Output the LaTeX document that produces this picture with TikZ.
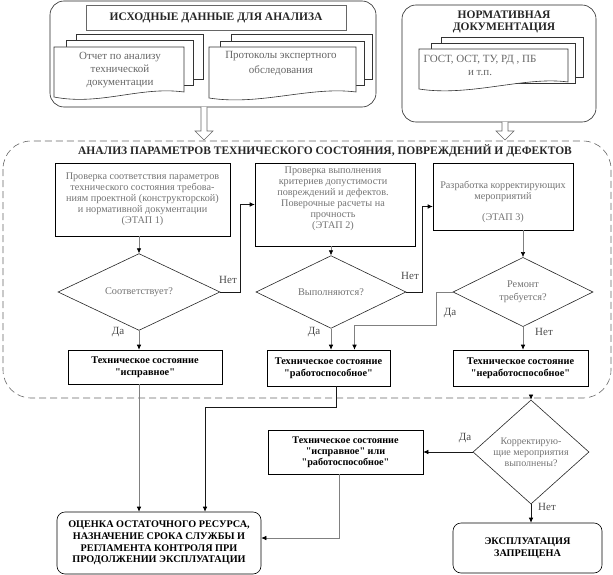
\documentclass[tikz,border=0pt]{standalone}
\usepackage{fontspec}
\setmainfont{Liberation Serif}[Ligatures=TeXOff]
\usetikzlibrary{shapes.geometric,arrows.meta}
\begin{document}
\begin{tikzpicture}[x=1pt,y=-1pt,
  outer/.style={draw=black!85, line width=0.6pt, rounded corners=14pt, inner sep=0pt},
  titlebox/.style={draw=black!60, line width=0.6pt, inner sep=0pt},
  titletxt/.style={font=\bfseries\fontsize{11.5}{12}\selectfont, align=center, text=black!85},
  doc/.style={draw=black!80, line width=0.6pt, fill=white},
  doctxt/.style={font=\fontsize{11}{13}\selectfont, align=center, text=black!60},
  stagebox/.style={draw=black, line width=0.6pt, inner sep=0pt},
  stagetxt/.style={font=\fontsize{10.2}{11}\selectfont, align=center, text=black!55},
  dec/.style={diamond, draw=black!85, line width=0.6pt, inner sep=0pt, align=center,
    font=\fontsize{10.3}{11}\selectfont, text=black!55},
  res/.style={draw=black, line width=0.6pt, inner sep=0pt, align=center,
    font=\bfseries\fontsize{10.3}{12.5}\selectfont},
  fin/.style={draw=black, line width=0.6pt, rounded corners=8pt, inner sep=0pt, align=center,
    font=\bfseries\fontsize{10.2}{11.7}\selectfont},
  arr/.style={draw=black!50, line width=0.6pt, -{Latex[length=5pt,width=4.5pt,color=black]}},
  arrk/.style={draw=black!90, line width=0.6pt, -{Latex[length=5pt,width=4.5pt,color=black]}},
  lbl/.style={font=\fontsize{11}{12}\selectfont, text=black!70, inner sep=0pt},
  hollow/.style={draw=black!60, fill=white, line width=0.6pt},
  region/.style={draw=black!60, line width=0.6pt, dash pattern=on 7pt off 4pt, rounded corners=28pt}
]
\useasboundingbox (0,0) rectangle (613,575);

% ---------- source data block ----------
\node[outer, minimum width=326pt, minimum height=106pt] (srcbox) at (213,54) {};
\node[titlebox, minimum width=260pt, minimum height=25pt] (srctitle) at (216,17.5) {};
\node[titletxt] at (srctitle) {ИСХОДНЫЕ ДАННЫЕ ДЛЯ АНАЛИЗА};

% document 1
\draw[doc] (76,34) rectangle (203,79);
\draw[doc] (66,40) rectangle (193,85);
\draw[doc] (54,47) -- (184,47) -- (184,92) .. controls (140,86) and (100,106) .. (54,97) -- cycle;
\node[doctxt] (doc1) at (120,70.5) {Отчет по анализу\\технической\\документации};

% document 2
\draw[doc] (231,34) rectangle (372,79);
\draw[doc] (220,41) rectangle (364,85);
\draw[doc] (209,47) -- (356,47) -- (356,92) .. controls (310,86) and (260,106) .. (209,98) -- cycle;
\node[doctxt, font=\fontsize{11}{14.5}\selectfont] (doc2) at (281,63.5) {Протоколы экспертного\\обследования};

% ---------- normative block ----------
\node[outer, minimum width=194pt, minimum height=117pt] (normbox) at (499,63.5) {};
\node[titletxt] (normtitle) at (504,21.5) {НОРМАТИВНАЯ\\ДОКУМЕНТАЦИЯ};
\draw[doc] (441,37) rectangle (583,77);
\draw[doc] (431,43) rectangle (575,83);
\draw[doc] (419,49) -- (568,49) -- (568,82) .. controls (525,76) and (470,97) .. (419,89) -- cycle;
\node[doctxt] (doc3) at (480,65) {ГОСТ, ОСТ, ТУ, РД , ПБ\\и т.п.};

% ---------- analysis region ----------
\draw[region] (3,141) rectangle (611,398);
\node[titletxt] (antitle) at (325,151) {АНАЛИЗ ПАРАМЕТРОВ ТЕХНИЧЕСКОГО СОСТОЯНИЯ, ПОВРЕЖДЕНИЙ И ДЕФЕКТОВ};

% hollow arrows
\draw[hollow] (201,107) -- (201,131) -- (195,131) -- (204,140) -- (213,131) -- (207,131) -- (207,107);
\draw[hollow] (502,122) -- (502,131) -- (496,131) -- (505,140) -- (514,131) -- (508,131) -- (508,122);

% stage boxes
\node[stagebox, minimum width=175pt, minimum height=73pt] (box1) at (142.5,199.5) {};
\node[stagetxt] at (142.5,199.5) {Проверка соответствия параметров\\технического состояния требова-\\ниям проектной (конструкторской)\\и нормативной документации\\(ЭТАП 1)};
\node[stagebox, minimum width=160pt, minimum height=83pt] (box2) at (335,204.5) {};
\node[stagetxt] at (333,199) {Проверка выполнения\\критериев допустимости\\повреждений и дефектов.\\Поверочные расчеты на\\прочность\\(ЭТАП 2)};
\node[stagebox, minimum width=140pt, minimum height=67pt] (box3) at (503,196.5) {};
\node[stagetxt] at (503,202) {Разработка корректирующих\\мероприятий\\[10pt](ЭТАП 3)};

% decisions
\node[dec, minimum width=162pt, minimum height=50pt] (d1) at (139,292) {Соответствует?};
\node[dec, minimum width=150pt, minimum height=45pt] (d2) at (331,292) {Выполняются?};
\node[dec, minimum width=140pt, minimum height=50pt] (d3) at (523,292) {Ремонт\\[2pt]требуется?};

% results
\node[res, minimum width=154pt, minimum height=34pt] (r1) at (145,367) {Техническое состояние\\"исправное"};
\node[res, minimum width=123pt, minimum height=36pt] (r2) at (328.5,368) {Техническое состояние\\"работоспособное"};
\node[res, minimum width=135pt, minimum height=36pt] (r3) at (520.5,368) {Техническое состояние\\"неработоспособное"};

% lower part
\node[dec, minimum width=116pt, minimum height=67pt, font=\fontsize{10}{11}\selectfont] (d4) at (531,452) {Корректирую-\\щие мероприятия\\выполнены?};
\node[res, minimum width=155pt, minimum height=44pt, font=\bfseries\fontsize{10.2}{11}\selectfont] (r4) at (345.5,452) {Техническое состояние\\"исправное" или\\"работоспособное"};
\node[fin, minimum width=204pt, minimum height=62pt] (F) at (159,543) {ОЦЕНКА ОСТАТОЧНОГО РЕСУРСА,\\НАЗНАЧЕНИЕ СРОКА СЛУЖБЫ И\\РЕГЛАМЕНТА  КОНТРОЛЯ ПРИ\\ПРОДОЛЖЕНИИ  ЭКСПЛУАТАЦИИ};
\node[fin, minimum width=149pt, minimum height=50pt, font=\bfseries\fontsize{10.2}{12}\selectfont] (E) at (527.5,548) {ЭКСПЛУАТАЦИЯ\\ЗАПРЕЩЕНА};

% connectors
\draw[arr] (box1.south -| d1.north) -- (d1.north);
\draw[arr] (d1.south) -- (d1.south |- r1.north);
\draw[arrk] (d1.east) -- ++(20,0) |- (box2.west);
\draw[arr] (box2.south -| d2.north) -- (d2.north);
\draw[arr] (d2.south) -- (d2.south |- r2.north);
\draw[arrk] (d2.east) -- ++(16,0) |- ([yshift=-10pt]box3.west);
\draw[arr] (box3.south -| d3.north) -- (d3.north);
\draw[arr] (d3.south) -- (d3.south |- r3.north);
\draw[arr] (d3.west) -- ++(-16,0) -- ++(0,33) -| ([xshift=26pt]r2.north);
\draw[arr] (d1.south |- r1.south) -- (d1.south |- F.north);
\draw[arrk] ([xshift=8pt]r2.south) -- ++(0,21) -| ([xshift=46pt]F.north);
\coordinate (exitpt) at (531,398);
\draw[arr] (exitpt) -- (d4.north);
\draw[arrk] (d4.west) -- (r4.east);
\draw[arrk] (d4.south) -- (d4.south |- E.north);
\draw[arr] ([xshift=-6.5pt]r4.south) |- ([yshift=5pt]F.east);

% labels
\node[lbl] at (228,280) {Нет};
\node[lbl] at (118,332) {Да};
\node[lbl] at (410,276) {Нет};
\node[lbl] at (314,332) {Да};
\node[lbl] at (450,313) {Да};
\node[lbl] at (544,332) {Нет};
\node[lbl] at (465,438) {Да};
\node[lbl] at (547,507) {Нет};
\end{tikzpicture}
\end{document}
